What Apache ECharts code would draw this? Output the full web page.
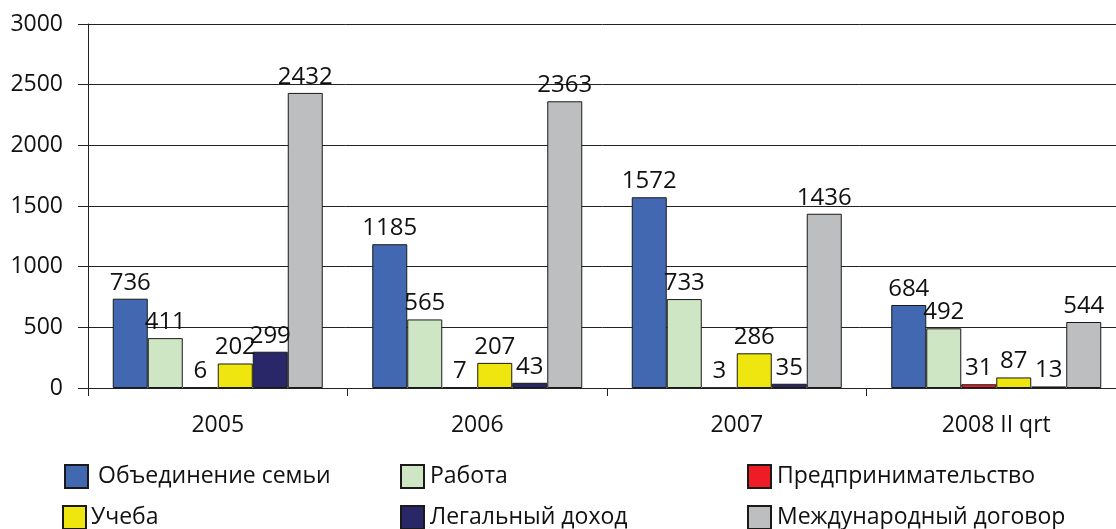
<!DOCTYPE html>
<html>
<head>
<meta charset="utf-8">
<script src="https://cdn.jsdelivr.net/npm/echarts@6/dist/echarts.min.js"></script>
<style>
  html, body { margin: 0; padding: 0; background: #fff; }
  #chart { width: 1116px; height: 529px; }
</style>
</head>
<body>
<div id="chart"></div>
<script>
const categories = ['2005', '2006', '2007', '2008 II qrt']
const seriesNames = [
    'Объединение семьи',
    'Работа',
    'Предпринимательство',
    'Учеба',
    'Легальный доход',
    'Международный договор'
]
const familyValues = [736, 1185, 1572, 684]
const workValues = [411, 565, 733, 492]
const businessValues = [6, 7, 3, 31]
const studyValues = [202, 207, 286, 87]
const incomeValues = [299, 43, 35, 13]
const treatyValues = [2432, 2363, 1436, 544]
const yTicks = [0, 500, 1000, 1500, 2000, 2500, 3000]

const seriesValues = [familyValues, workValues, businessValues, studyValues, incomeValues, treatyValues]
const colors = ['#4268b1', '#cfe6c4', '#ee1c25', '#eee60e', '#2a2768', '#bdbec0']

// legend layout: two rows, three columns
const legendPos = [
    { left: 64, top: 464, pad: 5 },
    { left: 400, top: 464, pad: 1 },
    { left: 747, top: 464, pad: 1 },
    { left: 62, top: 505, pad: 0 },
    { left: 400, top: 505, pad: 1 },
    { left: 747, top: 505, pad: 1 }
]

const font = "'Open Sans', 'Noto Sans', sans-serif"
const chart = echarts.init(document.getElementById('chart'))

const option = {
    animation: false,
    grid: {
        left: 88,
        width: 1038, // plot runs past the right edge of the picture
        top: 24,
        bottom: 141,
        outerBoundsMode: 'none'
    },
    legend: seriesNames.map((name, i) => ({
        data: [name],
        left: legendPos[i].left,
        top: legendPos[i].top,
        padding: 0,
        icon: 'rect',
        itemWidth: 23,
        itemHeight: 23,
        selectedMode: false,
        textStyle: {
            fontFamily: font,
            fontSize: 23,
            color: '#111',
            padding: [0, 0, 0, legendPos[i].pad]
        }
    })),
    xAxis: {
        type: 'category',
        data: categories,
        axisLine: { lineStyle: { color: '#222', width: 1 } },
        axisTick: { show: true, length: 8, lineStyle: { color: '#222' } },
        axisLabel: {
            fontFamily: font,
            fontSize: 23,
            color: '#111',
            margin: 26
        }
    },
    yAxis: {
        type: 'value',
        min: yTicks[0],
        max: yTicks[yTicks.length - 1],
        interval: 500,
        axisLine: { show: true, lineStyle: { color: '#222', width: 1 } },
        axisTick: { show: true, length: 10, lineStyle: { color: '#222' } },
        axisLabel: {
            fontFamily: font,
            fontSize: 23,
            color: '#111',
            margin: 25,
            formatter: v => String(v)
        },
        splitLine: { lineStyle: { color: '#222', width: 1 } }
    },
    series: seriesNames.map((name, i) => ({
        name: name,
        type: 'bar',
        data: seriesValues[i],
        barWidth: 35,
        barGap: '0%',
        itemStyle: {
            color: colors[i],
            borderColor: '#1a1a1a',
            borderWidth: 1
        },
        label: {
            show: true,
            position: 'top',
            distance: 4,
            fontFamily: font,
            fontSize: 24,
            color: '#111'
        }
    }))
}

chart.setOption(option)
</script>
</body>
</html>
